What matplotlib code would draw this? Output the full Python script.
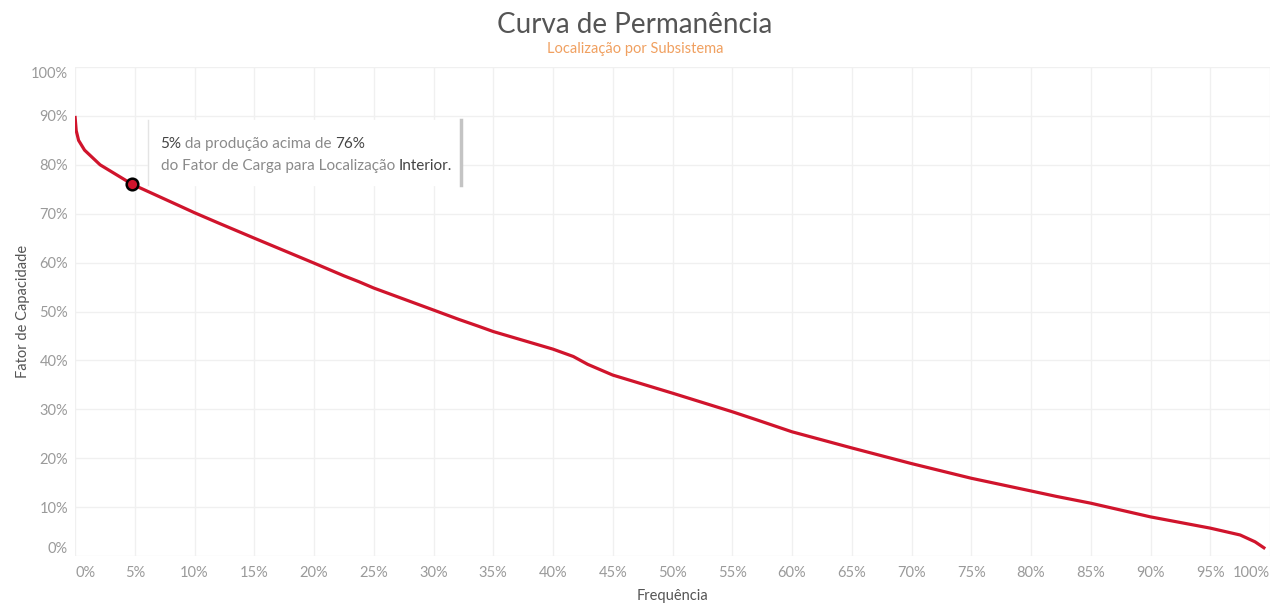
import numpy as np
import matplotlib
matplotlib.use("Agg")
import matplotlib.pyplot as plt
from matplotlib.ticker import FuncFormatter

plt.rcParams['font.family'] = ['Lato', 'DejaVu Sans']

# dados (frequência %, fator de capacidade %)
frequencia = [0, 0.1, 0.3, 0.8, 2.1, 4.8, 8.75, 10, 12, 15, 20, 22.5, 23.75, 25,
              30, 32.1, 33.75, 35, 40, 41.7, 42.9, 45, 50, 55, 57.1, 60, 65, 70,
              75, 80, 82.1, 85, 90, 95, 97.5, 98.75, 99.6]
fator = [90, 87, 85, 83, 80, 76, 71.6, 70.2, 68.1, 65.0, 59.9, 57.3, 56.1, 54.8,
         50.3, 48.4, 47.0, 45.9, 42.3, 40.8, 39.2, 37.0, 33.3, 29.5, 27.8, 25.4,
         22.1, 18.9, 15.9, 13.3, 12.2, 10.8, 8.0, 5.7, 4.3, 2.9, 1.5]

# ponto destacado
ponto_freq = 4.8
ponto_fator = 76

xticks = list(range(0, 101, 5))
yticks = list(range(0, 101, 10))

cor_linha = '#d0142c'
cor_ticks = '#9a9a9a'
cor_grid = '#f0f0f0'

fig = plt.figure(figsize=(12.7, 6.03), dpi=100)
ax = fig.add_axes([75 / 1270, 1 - 556 / 603, 1 - 75 / 1270, (556 - 67) / 603])

ax.plot(frequencia, fator, color=cor_linha, lw=2.3, solid_capstyle='butt', zorder=3)
ax.scatter([ponto_freq], [ponto_fator], s=70, color=cor_linha, edgecolors='black',
           linewidths=1.8, zorder=4)

ax.set_xlim(0, 99.6)
ax.set_ylim(0, 100)
ax.set_xticks(xticks)
ax.set_yticks(yticks)
ax.xaxis.set_major_formatter(FuncFormatter(lambda v, p: f'{v:.0f}%'))
ax.yaxis.set_major_formatter(FuncFormatter(lambda v, p: f'{v:.0f}%'))
ax.grid(True, color=cor_grid, lw=1)
ax.set_axisbelow(True)
for s in ax.spines.values():
    s.set_visible(False)
ax.tick_params(axis='both', length=0, colors=cor_ticks, labelsize=10.5)
ax.tick_params(axis='x', pad=7)
ax.tick_params(axis='y', pad=5)

# rótulos das pontas deslocados para dentro, como no Tableau
xl = ax.get_xticklabels()
xl[0].set_ha('left')
xl[-1].set_ha('right')
yl = ax.get_yticklabels()
yl[0].set_va('bottom')
yl[-1].set_va('top')

ax.set_xlabel('Frequência', color='#555555', fontsize=10.5, labelpad=7)
ax.set_ylabel('Fator de Capacidade', color='#555555', fontsize=10.5, labelpad=1)

fig.text(0.5, 1 - 25 / 603, 'Curva de Permanência', ha='center', va='center',
         fontsize=20, color='#555555')
fig.text(0.5, 1 - 49 / 603, 'Localização por Subsistema', ha='center', va='center',
         fontsize=10.5, color='#f0a060')

# caixa do tooltip
x0, x1, y0, y1 = 6.08, 32.3, 75.9, 89.2
ax.fill_between([x0, x1], y0, y1, color='white', zorder=5)
ax.plot([x0, x0], [y0, y1], color='#e4e4e4', lw=1, zorder=6)
ax.plot([x1, x1], [y0, y1], color='#c4c4c4', lw=2.5, zorder=6)

def linha(partes, x, y):
    t = ax.text(x, y, partes[0][0], fontsize=11, color=partes[0][1],
                fontweight=partes[0][2], va='baseline', zorder=7)
    for txt, cor, peso in partes[1:]:
        t = ax.annotate(txt, xy=(1, 0), xycoords=t, va='bottom', fontsize=11,
                        color=cor, fontweight=peso, zorder=7)

cinza = '#8a8a8a'
escuro = '#444444'
linha([('5%', escuro, 'normal'), (' da produção acima de ', cinza, 'normal'),
       ('76%', escuro, 'normal')], 7.1, 83.4)
linha([('do Fator de Carga para Localização ', cinza, 'normal'),
       ('Interior.', escuro, 'normal')], 7.17, 78.9)

fig.savefig('out.png', dpi=100, facecolor='white')
